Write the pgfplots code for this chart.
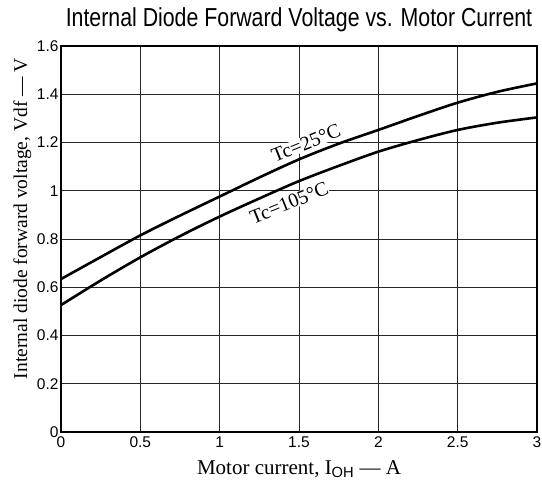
\documentclass[border=0pt]{standalone}
\usepackage{fontspec}
\setmainfont{Liberation Serif}
\newfontfamily\arial{Liberation Sans}
\usepackage{graphicx}
\usepackage{pgfplots}
\pgfplotsset{compat=1.18}

\begin{document}
\begin{tikzpicture}
  \begin{axis}[
      scale only axis,
      at={(0,0)}, anchor=south west,
      width=476pt,
      height=386pt,
      xmin=0, xmax=3,
      ymin=0, ymax=1.6,
      xtick={0,0.5,1,1.5,2,2.5,3},
      ytick={0,0.2,0.4,0.6,0.8,1,1.2,1.4,1.6},
      grid=major,
      grid style={line width=0.7pt, draw=black!85},
      axis line style={line width=1.3pt},
      major tick length=0pt,
      /pgf/number format/assume math mode=true,
      tick label style={font=\arial\fontsize{15.5}{15.5}\selectfont},
      xticklabel style={yshift=-1pt},
      yticklabel style={xshift=1pt},
      title={\scalebox{0.82}[1]{\arial\fontsize{26}{26}\selectfont Internal Diode Forward Voltage vs. Motor Current}},
      title style={at={(axis description cs:0.5,1.034)}, anchor=base, inner sep=0pt},
      xlabel={Motor current, I\textsubscript{\arial OH} — A},
      xlabel style={font=\fontsize{21}{21}\selectfont, at={(axis description cs:0.5,-0.109)}, anchor=base, inner sep=0pt},
      ylabel={Internal diode forward voltage, Vdf — V},
      ylabel style={font=\fontsize{19.5}{19.5}\selectfont, at={(axis description cs:-0.0714,0.553)}, anchor=base, inner sep=0pt},
    ]
    % Tc = 25 C
    \addplot[black, line width=2.6pt, smooth] coordinates {
      (0,0.634) (0.25,0.725) (0.5,0.815) (0.75,0.897) (1,0.976)
      (1.25,1.055) (1.5,1.130) (1.75,1.195) (2,1.252) (2.25,1.310)
      (2.5,1.365) (2.75,1.410) (3,1.445)
    };
    % Tc = 105 C
    \addplot[black, line width=2.6pt, smooth] coordinates {
      (0,0.526) (0.25,0.628) (0.5,0.724) (0.75,0.812) (1,0.893)
      (1.25,0.968) (1.5,1.040) (1.75,1.103) (2,1.162) (2.25,1.210)
      (2.5,1.252) (2.75,1.282) (3,1.304)
    };
    \node[fill=white, inner sep=0.5pt, rotate=22, font=\fontsize{20}{20}\selectfont]
      at (axis cs:1.544,1.197) {Tc=25°C};
    \node[fill=white, inner sep=0.5pt, rotate=22, font=\fontsize{20}{20}\selectfont]
      at (axis cs:1.437,0.950) {Tc=105°C};
  \end{axis}
  \pgfresetboundingbox
  \path[use as bounding box] (-61pt,-50pt) rectangle (481pt,432pt);
\end{tikzpicture}
\end{document}
